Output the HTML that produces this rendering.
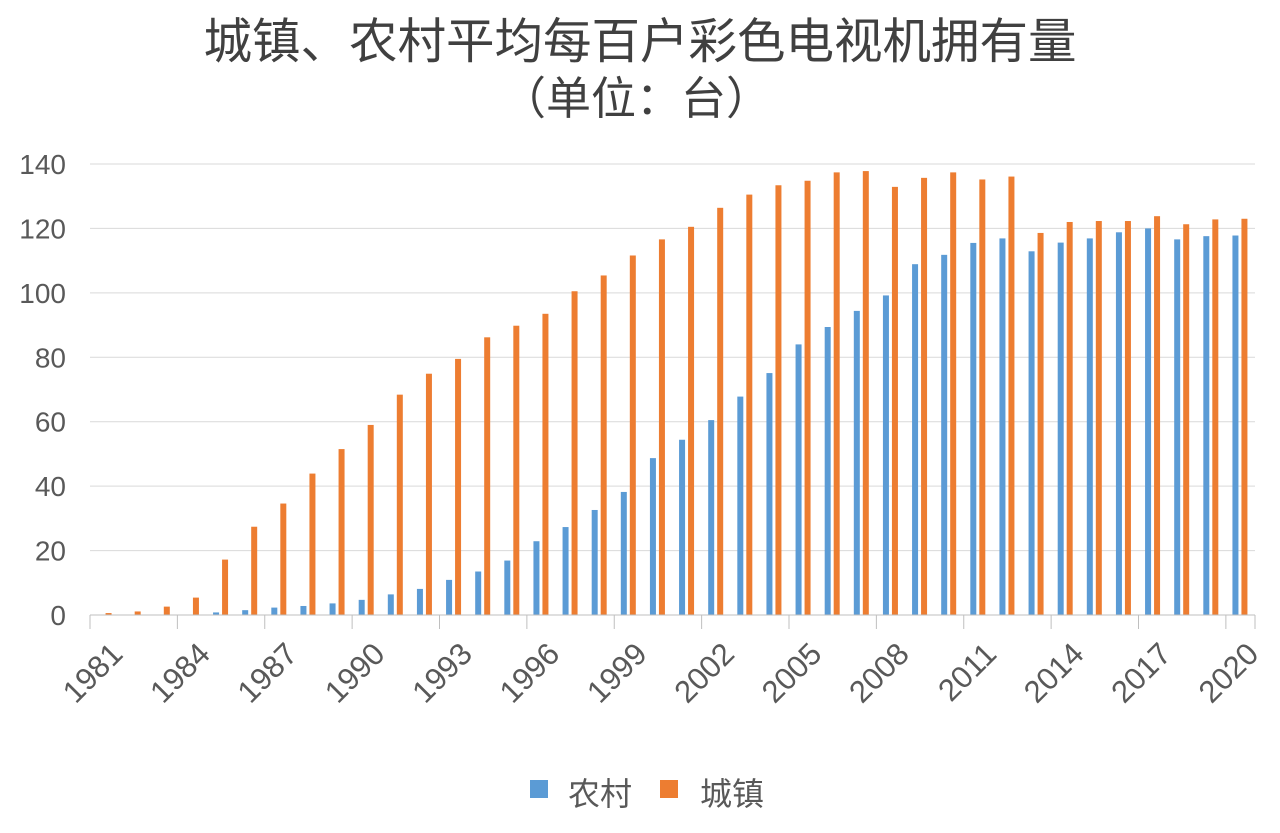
<!DOCTYPE html>
<html><head><meta charset="utf-8"><style>
html,body{margin:0;padding:0;background:#fff;}
svg text{font-family:"Liberation Sans","Noto Sans CJK SC",sans-serif;}
</style></head><body>
<svg id="chart" width="1280" height="828" xmlns="http://www.w3.org/2000/svg">
<text x="640" y="58" text-anchor="middle" font-size="48.5" fill="#404040">城镇、农村平均每百户彩色电视机拥有量</text>
<text x="636" y="114" text-anchor="middle" font-size="45" fill="#404040">（单位：台）</text>
<g id="grid"></g><g id="bars"></g><g id="axes"></g>
<g>
<rect x="530" y="780" width="18" height="18" fill="#5B9BD5"/>
<text x="568" y="805" font-size="32" fill="#595959">农村</text>
<rect x="660" y="780" width="18" height="18" fill="#ED7D31"/>
<text x="700" y="805" font-size="32" fill="#595959">城镇</text>
</g>
</svg>
<script>
const years = [];
for (let y = 1981; y <= 2020; y++) years.push(y);
const rural = [0,0,0,0,0.8,1.5,2.3,2.8,3.6,4.7,6.4,8.1,10.9,13.5,16.9,22.9,27.3,32.6,38.2,48.7,54.4,60.5,67.8,75.1,84,89.4,94.4,99.2,108.9,111.8,115.5,116.9,112.9,115.6,116.9,118.8,120,116.6,117.6,117.8];
const urban = [0.6,1.1,2.6,5.4,17.2,27.4,34.6,43.9,51.5,59,68.4,74.9,79.5,86.2,89.8,93.5,100.5,105.4,111.6,116.6,120.5,126.4,130.5,133.4,134.8,137.4,137.8,132.9,135.7,137.4,135.2,136.1,118.6,122,122.3,122.3,123.8,121.3,122.8,123];
const yTicks = [0,20,40,60,80,100,120,140];

const NS = "http://www.w3.org/2000/svg";
const X0 = 90, X1 = 1255, Y0 = 615, Y1 = 164, YMAX = 140;
const cw = (X1 - X0) / years.length;
const xs = i => X0 + cw * i;
const ys = v => Y0 - (v / YMAX) * (Y0 - Y1);
function mk(tag, attrs, parent) { const e = document.createElementNS(NS, tag); for (const k in attrs) e.setAttribute(k, attrs[k]); parent.appendChild(e); return e; }
const grid = document.getElementById('grid'), bars = document.getElementById('bars'), axes = document.getElementById('axes');

yTicks.forEach(t => {
  if (t > 0) {
    const l = mk('line', {x1: X0, x2: X1, y1: ys(t), y2: ys(t), stroke: '#d9d9d9', 'stroke-width': 1}, grid);
    
    
  }
  const tx = mk('text', {x: 66, y: ys(t) + 10, 'text-anchor': 'end', 'font-size': 28, fill: '#595959'}, axes);
  tx.textContent = t;
  
  
});

years.forEach((yr, i) => {
  const c = xs(i) + cw / 2;
  const bw = 6;
  if (rural[i] > 0) {
    const r = mk('rect', {x: c - 5 - bw / 2, y: ys(rural[i]), width: bw, height: Y0 - ys(rural[i]), fill: '#5B9BD5'}, bars);
    
    
  }
  const u = mk('rect', {x: c + 4 - bw / 2, y: ys(urban[i]), width: bw, height: Y0 - ys(urban[i]), fill: '#ED7D31'}, bars);
  
  
  if (i % 3 === 0) {
    const tk = mk('line', {x1: xs(i), x2: xs(i), y1: Y0, y2: Y0 + 14, stroke: '#bfbfbf', 'stroke-width': 1}, axes);
    
    
    const lx = c + 4, ly = 640;
    const lt = mk('text', {x: lx, y: ly, 'text-anchor': 'end', 'font-size': 31, fill: '#595959', transform: `rotate(-45 ${lx} ${ly})`, 'dominant-baseline': 'hanging'}, axes);
    lt.textContent = yr;
    
    
  }
});
const endTick = mk('line', {x1: X1, x2: X1, y1: Y0, y2: Y0 + 14, stroke: '#bfbfbf', 'stroke-width': 1}, axes);


const ax = mk('line', {x1: X0, x2: X1, y1: Y0, y2: Y0, stroke: '#bfbfbf', 'stroke-width': 1}, axes);


</script>
</body></html>
